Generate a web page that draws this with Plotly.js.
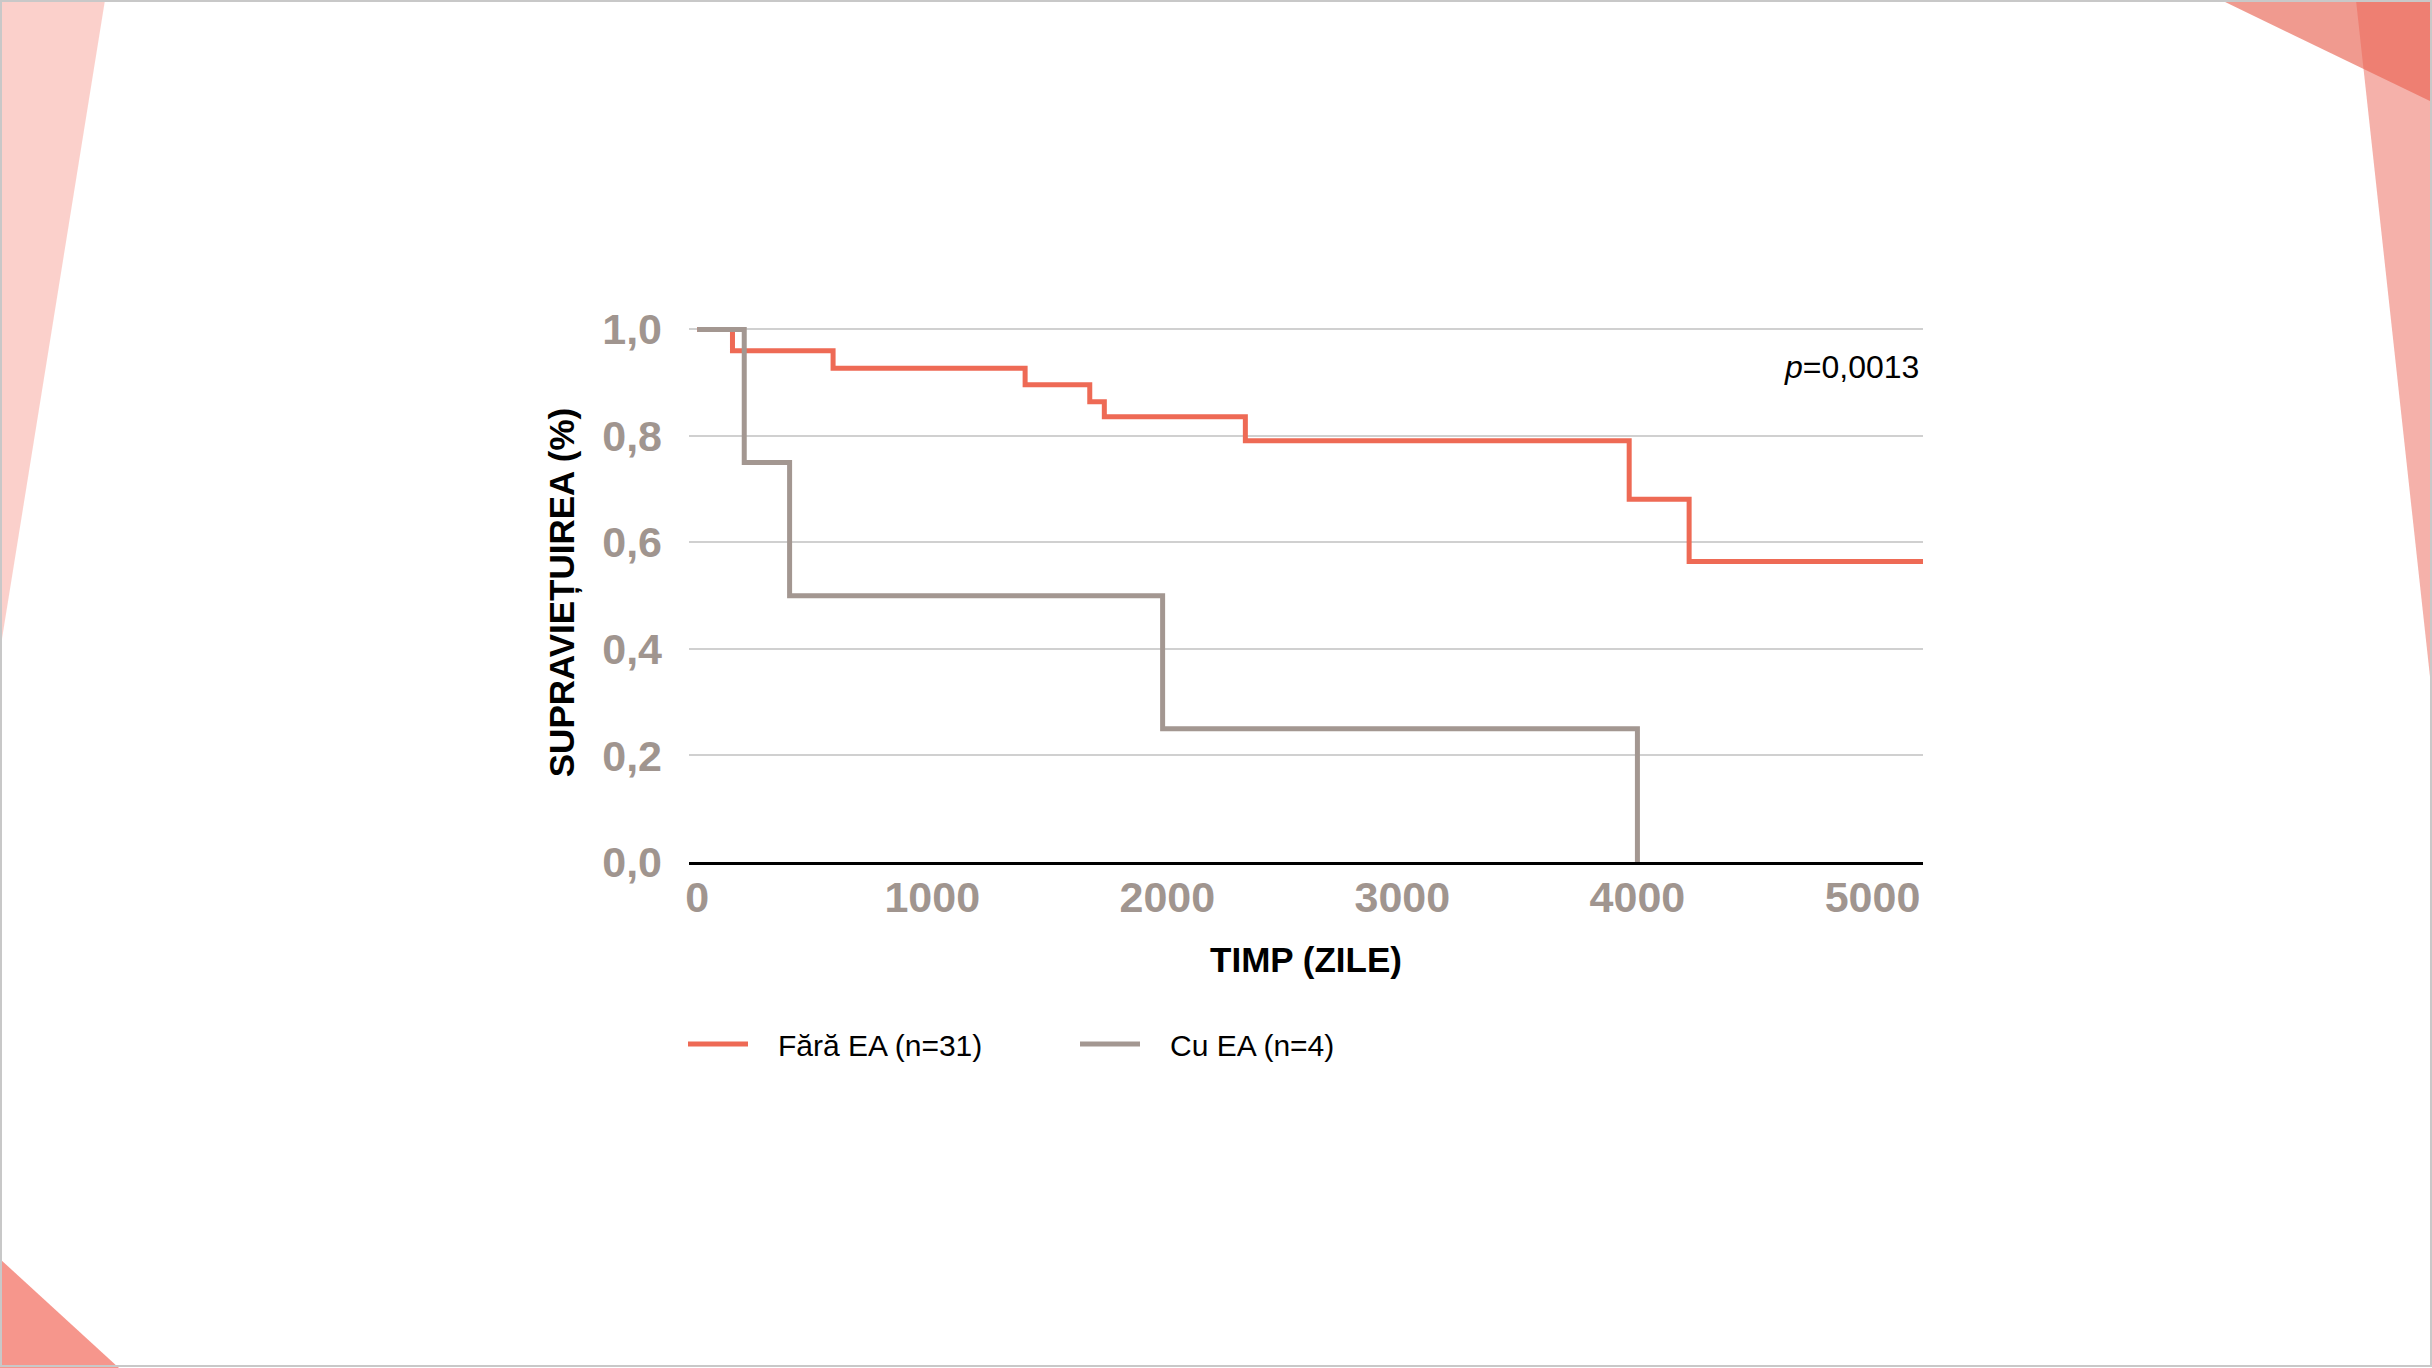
<!DOCTYPE html>
<html>
<head>
<meta charset="utf-8">
<script src="https://cdn.plot.ly/plotly-3.0.1.min.js"></script>
<style>
html,body{margin:0;padding:0;background:#fff;}
#chart{width:2432px;height:1368px;}
</style>
</head>
<body>
<div id="chart"></div>
<script>
// ---- data ----
const seriesNames = ["Fără EA (n=31)", "Cu EA (n=4)"];
const timeFara = [0, 150, 578, 1395, 1670, 1732, 2332, 3965, 4220, 5215];
const survFara = [1.0, 0.96, 0.927, 0.896, 0.864, 0.836, 0.791, 0.681, 0.564, 0.564];
const timeCu = [0, 200, 393, 1980, 4000];
const survCu = [1.0, 0.75, 0.5, 0.25, 0.0];
const xTickVals = [0, 1000, 2000, 3000, 4000, 5000];
const xTickText = ["0", "1000", "2000", "3000", "4000", "5000"];
const yTickVals = [0, 0.2, 0.4, 0.6, 0.8, 1.0];
const yTickText = ["0,0", "0,2", "0,4", "0,6", "0,8", "1,0"];
const pValueText = "<i>p</i>=0,0013";
const xTitle = "TIMP (ZILE)";
const yTitle = "SUPRAVIEȚUIREA (%)";

// ---- layout geometry ----
const W = 2432, H = 1368;
const M = {l: 689, r: 509, t: 323, b: 506};
const PW = W - M.l - M.r, PH = H - M.t - M.b;
const px = x => (x - M.l) / PW;
const py = y => 1 - (y - M.t) / PH;

const RED = "#EE6A55", GREY = "#A39791";
const FONT = "Liberation Sans, Arial, Helvetica, sans-serif";
const PAD = "\u00A0\u00A0\u00A0"; // gap between legend line sample and its label

function tri(pts, color){
  let d = "M" + pts.map(p => px(p[0]) + "," + py(p[1])).join(" L") + " Z";
  return {type: "path", xref: "paper", yref: "paper", path: d,
          fillcolor: color, line: {width: 0}, layer: "below"};
}

const shapes = [
  tri([[0,0],[105,0],[0,651]], "rgba(248,170,160,0.55)"),
  tri([[2221,0],[2432,0],[2432,102]], "rgba(232,95,78,0.63)"),
  tri([[2356,0],[2432,0],[2432,695]], "rgba(235,100,85,0.5)"),
  tri([[0,1259],[119,1368],[0,1368]], "rgba(242,110,95,0.72)"),
  {type: "rect", xref: "paper", yref: "paper",
   x0: px(1), x1: px(W-1), y0: py(1), y1: py(H-2),
   line: {color: "#c8c8c8", width: 2}, layer: "above"}
];

const traces = [
  {x: timeFara, y: survFara, name: PAD + seriesNames[0], type: "scatter", mode: "lines",
   line: {color: RED, width: 5, shape: "hv"}},
  {x: timeCu, y: survCu, name: PAD + seriesNames[1], type: "scatter", mode: "lines",
   line: {color: GREY, width: 5, shape: "hv"}}
];

const layout = {
  width: W, height: H,
  margin: M,
  paper_bgcolor: "#ffffff", plot_bgcolor: "rgba(0,0,0,0)",
  font: {family: FONT, color: "#000"},
  showlegend: true,
  legend: {orientation: "h", x: px(683), xanchor: "left", y: py(1044), yanchor: "middle",
           font: {family: FONT, size: 30, color: "#000"},
           itemwidth: 60, entrywidth: 317, entrywidthmode: "pixels",
           bgcolor: "rgba(0,0,0,0)"},
  xaxis: {range: [-35, 5215], tickvals: xTickVals, ticktext: xTickText,
          showgrid: false, zeroline: false, showline: true, linecolor: "#000", linewidth: 2.5,
          ticks: "", ticklabelstandoff: -4,
          tickfont: {family: FONT, size: 43, color: "#A0958F", weight: "bold"},
          title: {text: xTitle, standoff: 28, font: {family: FONT, size: 35, color: "#000", weight: "bold"}}},
  yaxis: {range: [0, 1.012], tickvals: yTickVals, ticktext: yTickText,
          showgrid: true, gridcolor: "#d0d0d0", gridwidth: 2, zeroline: false, showline: false,
          ticks: "", ticklabelstandoff: 26,
          tickfont: {family: FONT, size: 43, color: "#A0958F", weight: "bold"},
          title: {text: yTitle, standoff: 16, font: {family: FONT, size: 35, color: "#000", weight: "bold"}}},
  annotations: [
    {text: pValueText, xref: "paper", yref: "paper", x: px(1921), y: py(367),
     xanchor: "right", yanchor: "middle", showarrow: false,
     font: {family: FONT, size: 32, color: "#000"}}
  ],
  shapes: shapes
};

Plotly.newPlot("chart", traces, layout, {displayModeBar: false, staticPlot: true});
</script>
</body>
</html>
